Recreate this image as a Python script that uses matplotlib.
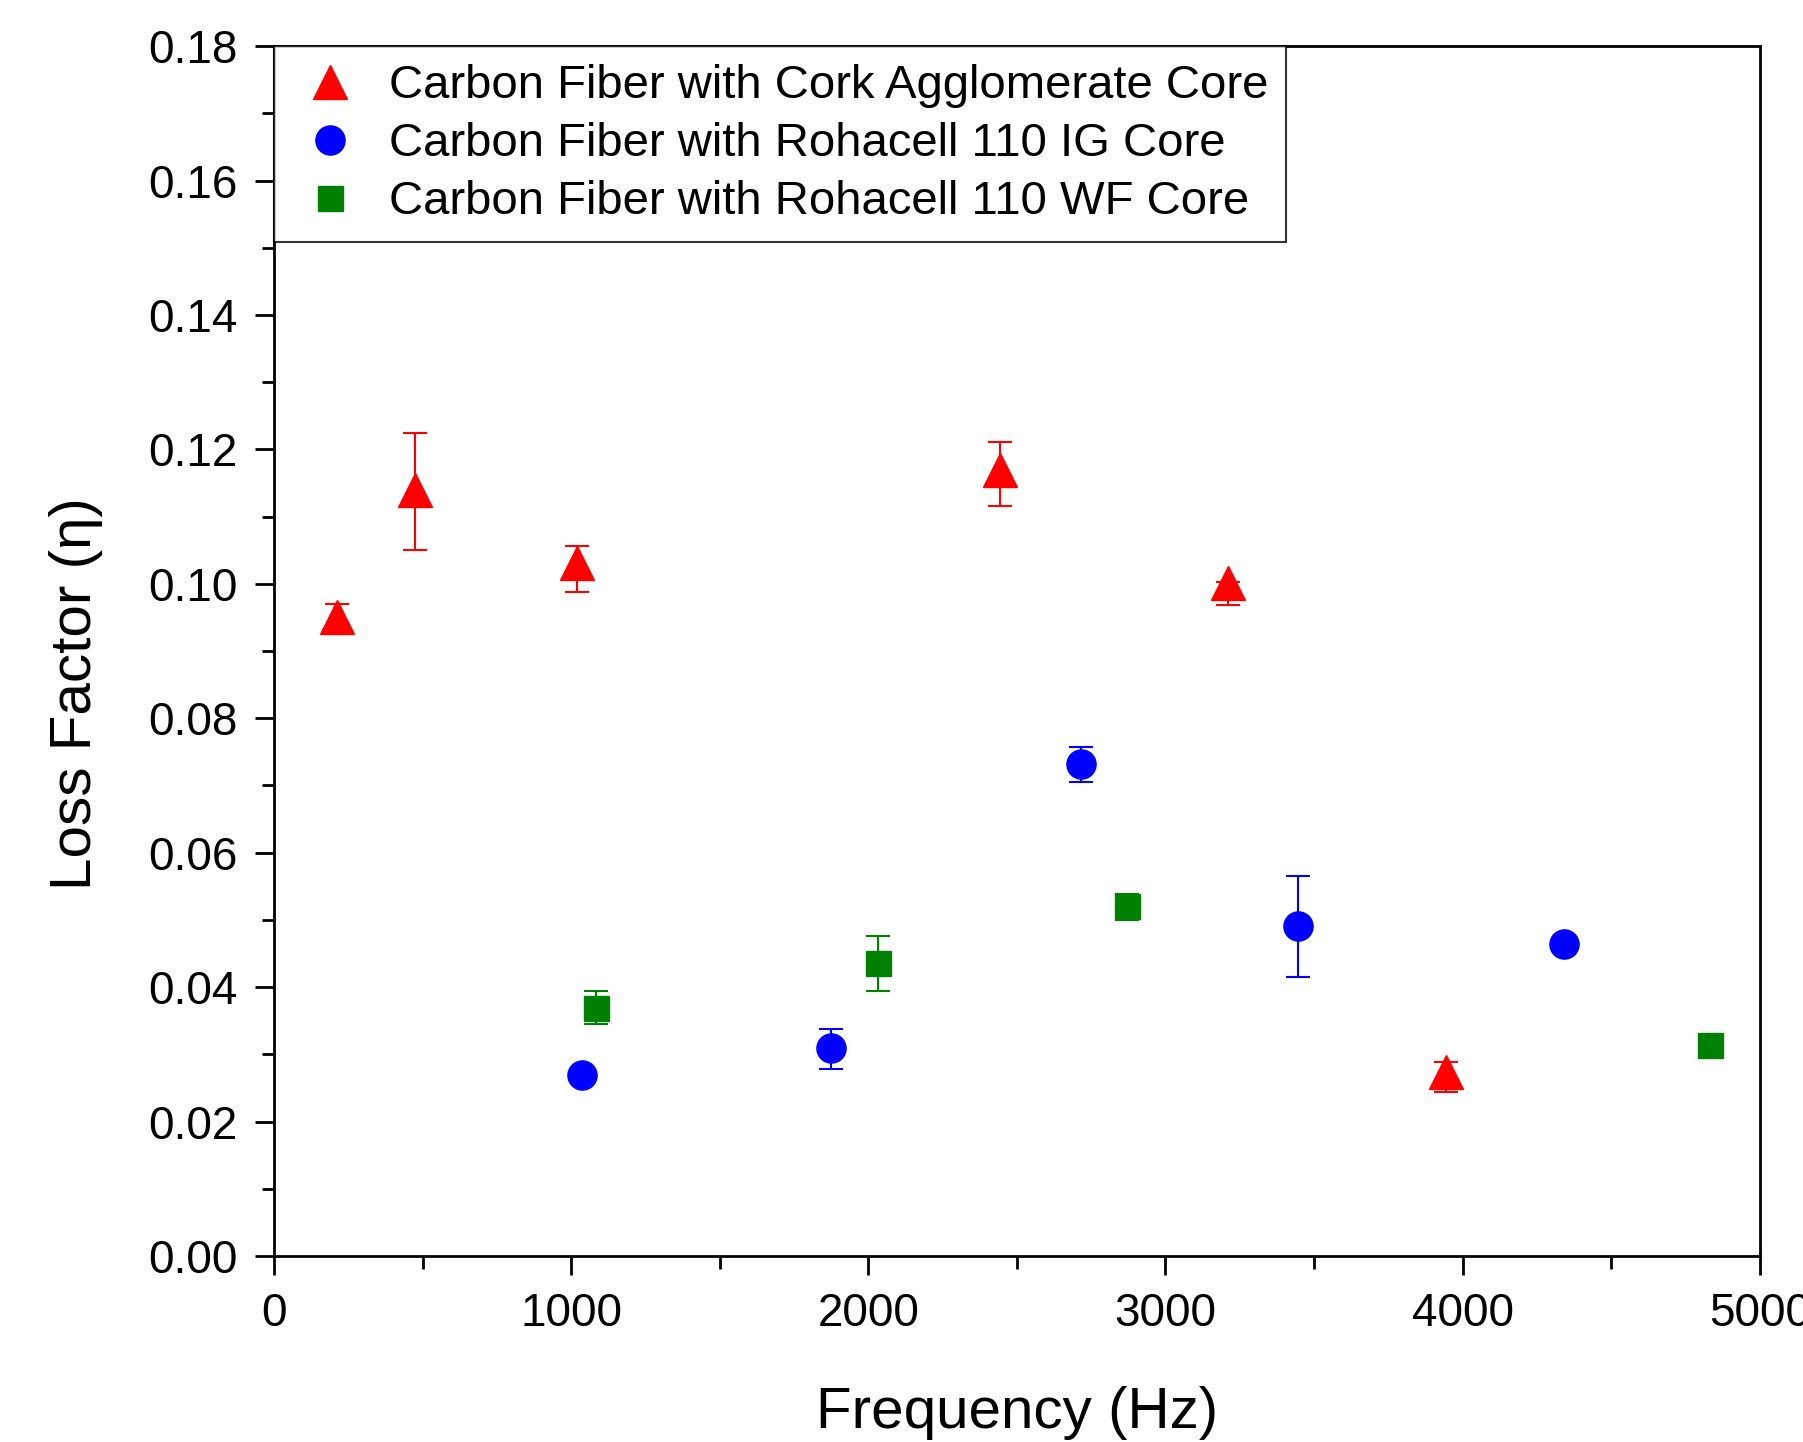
import matplotlib
matplotlib.use("Agg")
import matplotlib.pyplot as plt
from matplotlib.ticker import MultipleLocator

plt.rcParams['font.family'] = ['Liberation Sans', 'DejaVu Sans']

# Dataset
# -------
cork_f = [212, 474, 1020, 2443, 3210, 3944]
cork_eta = [0.0951, 0.1140, 0.1031, 0.1169, 0.1001, 0.0274]
cork_lo = [0.0928, 0.1050, 0.0988, 0.1116, 0.0968, 0.0244]
cork_hi = [0.0970, 0.1224, 0.1056, 0.1211, 0.1003, 0.0289]

ig_f = [1036, 1874, 2715, 3446, 4341]
ig_eta = [0.0269, 0.0309, 0.0732, 0.0491, 0.0464]
ig_lo = [0.0269, 0.0278, 0.0705, 0.0415, 0.0464]
ig_hi = [0.0269, 0.0338, 0.0757, 0.0565, 0.0464]

wf_f = [1083, 2032, 2870, 4832]
wf_eta = [0.0369, 0.0436, 0.0521, 0.0314]
wf_lo = [0.0345, 0.0394, 0.0500, 0.0314]
wf_hi = [0.0394, 0.0476, 0.0539, 0.0314]

labels = ["Carbon Fiber with Cork Agglomerate Core",
          "Carbon Fiber with Rohacell 110 IG Core",
          "Carbon Fiber with Rohacell 110 WF Core"]


def err(v, lo, hi):
    return [[a - b for a, b in zip(v, lo)], [c - a for a, c in zip(v, hi)]]


# Draw Plot
# ---------
fig = plt.figure(figsize=(18.03, 14.42), dpi=100)
ax = fig.add_axes([0.152, 0.129, 0.824, 0.839])

kw = dict(capsize=8.5, elinewidth=1.5, capthick=1.5, ls='none')
e1 = ax.errorbar(cork_f, cork_eta, yerr=err(cork_eta, cork_lo, cork_hi),
                 marker='^', color='#ff0000', ms=25, **kw)
e2 = ax.errorbar(ig_f, ig_eta, yerr=err(ig_eta, ig_lo, ig_hi),
                 marker='o', color='#0000ff', ms=21, **kw)
e3 = ax.errorbar(wf_f, wf_eta, yerr=err(wf_eta, wf_lo, wf_hi),
                 marker='s', color='#008000', ms=18, **kw)

ax.set_xlim(0, 5000)
ax.set_ylim(0, 0.18)
ax.xaxis.set_major_locator(MultipleLocator(1000))
ax.xaxis.set_minor_locator(MultipleLocator(500))
ax.yaxis.set_major_locator(MultipleLocator(0.02))
ax.yaxis.set_minor_locator(MultipleLocator(0.01))
ax.yaxis.set_major_formatter(plt.FormatStrFormatter('%.2f'))

ax.tick_params(which='both', direction='out', top=False, right=False, width=2,
               labelsize=33)
ax.tick_params(which='major', length=14, pad=12)
ax.tick_params(which='minor', length=9)
for s in ax.spines.values():
    s.set_linewidth(2)

ax.set_xlabel("Frequency (Hz)", fontsize=42, labelpad=36)
ax.set_ylabel("Loss Factor (\u03b7)", fontsize=42)
ax.yaxis.set_label_coords(-0.115, 0.465)

leg = ax.legend([e1[0], e2[0], e3[0]], labels, loc='upper left', fontsize=34,
                frameon=True, fancybox=False, borderaxespad=0,
                handletextpad=0.45, labelspacing=0.3, borderpad=0.38,
                handlelength=1.6)
leg.get_frame().set_edgecolor('black')
leg.get_frame().set_linewidth(1.5)

fig.savefig("out.png", dpi=100)
